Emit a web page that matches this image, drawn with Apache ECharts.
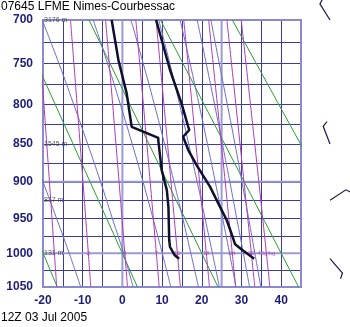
<!DOCTYPE html>
<html><head><meta charset="utf-8">
<script src="https://cdn.jsdelivr.net/npm/echarts@6/dist/echarts.min.js"></script>
<style>html,body{margin:0;padding:0;background:#fff}#chart{width:350px;height:327px}</style>
</head><body><div id="chart"></div>
<script>
// Stüve diagram: the vertical axis is linear in p^kappa
const KAPPA = 0.286;
const sp = p => Math.pow(p, KAPPA);

const pressureLabels = [700, 750, 800, 850, 900, 950, 1000, 1050];
const isobars = [700, 725, 750, 775, 800, 825, 850, 875, 900, 925, 950, 975, 1000, 1025, 1050];
// heavier reference lines
const boldIsobars = [900, 1000];
const boldIsotherms = [0, 25];

// temperature profile (hPa, degC)
const tempPres = [700, 758, 798.6, 828, 832, 840.7, 857.9, 877.7, 906.9, 934.3, 952.9, 971.8, 987.1, 994.7, 1008];
const tempVals = [8.5, 12.0, 14.9, 16.6, 16.85, 15.3, 16.6, 18.7, 22.1, 24.6, 26.3, 27.5, 28.4, 30.05, 33.2];

// dew point profile (hPa, degC)
const dewPres = [700, 746.1, 786.3, 828, 830, 842, 845, 884.3, 911.3, 934.3, 981.3, 991, 1003, 1008];
const dewVals = [-2.7, -1.0, 1.08, 2.34, 2.75, 9.04, 9.04, 9.9, 11.2, 11.6, 11.8, 12.0, 13.2, 14.3];

// dry adiabats: temperature at 1050 hPa and at 700 hPa
const dryAt1050 = [-16.4, 3.8, 24.1, 44.4, 64.7];
const dryAt700 = [-44.6, -26.5, -8.4, 9.6, 27.7];

// saturated adiabats: temperature at each of moistPres
const moistPres = [1050, 1000, 950, 900, 850, 800, 750, 700];
const moistTemps = [
  [-10.5, -13.4, -16.6, -20.0, -23.6, -27.3, -31.2, -35.3],
  [2.7, 0.3, -2.55, -5.5, -8.75, -12.25, -16.0, -20.2],
  [12.2, 10.05, 7.7, 5.2, 2.48, -0.5, -3.75, -7.35],
  [19.17, 17.24, 15.2, 13.0, 10.63, 8.06, 5.24, 2.17],
  [24.44, 22.68, 20.82, 18.84, 16.71, 14.43, 11.94, 9.15],
  [28.62, 27.0, 25.25, 23.4, 21.43, 19.32, 17.05, 14.55],
  [32.04, 30.48, 28.8, 27.07, 25.2, 23.23, 21.12, 18.85],
  [34.88, 33.37, 31.8, 30.12, 28.37, 26.44, 24.4, 22.3]
];

// saturation mixing ratio lines (g/kg), temperatures at mixPres
const mixPres = [1050, 1000, 850, 700];
const mixTemps = [
  [-16.55, -17.13, -19.05, -21.3],
  [-7.96, -8.58, -10.65, -13.07],
  [1.29, 0.61, -1.62, -4.23],
  [9.27, 8.55, 6.17, 3.39],
  [14.61, 13.85, 11.38, 8.48],
  [21.94, 21.14, 18.52, 15.46],
  [28.53, 27.69, 24.94, 21.73],
  [33.36, 32.49, 29.64, 26.32],
  [37.16, 36.28, 33.35, 29.94]
];
const mixLabels = ['', '2', '4', '7', '10', '16', '24', '32', '40g/kg'];

// geopotential heights of standard levels
const heightPres = [700, 850, 925, 1000];
const heightText = ['3176 m', '1545 m', '817 m', '131 m'];

// winds: pressure, direction (deg), speed (kt)
const windPres = [700, 850, 925, 1008];
const windDir = [328, 339, 57, 139];
const windSpd = [10, 10, 10, 10];

const NAVY = '#1e1e7a';
const MAGENTA = '#b03cb0';
const series = [];
const bg = { type: 'line', silent: true, symbol: 'none', clip: true };

boldIsobars.forEach(p => series.push(Object.assign({}, bg, {
  z: 1, lineStyle: { color: '#9a9ad6', width: 2 }, data: [[-20, sp(p)], [45, sp(p)]]
})));
boldIsotherms.forEach(t => series.push(Object.assign({}, bg, {
  z: 1, lineStyle: { color: '#9a9ad6', width: 2 }, data: [[t, sp(700)], [t, sp(1050)]]
})));

dryAt1050.forEach((t, i) => series.push(Object.assign({}, bg, {
  z: 3, lineStyle: { color: '#2ca02c', width: 1 },
  data: [[t, sp(1050)], [dryAt700[i], sp(700)]]
})));

moistTemps.forEach(row => series.push(Object.assign({}, bg, {
  z: 3, smooth: true, lineStyle: { color: '#6d6dc4', width: 1 },
  data: row.map((t, j) => [t, sp(moistPres[j])])
})));

mixTemps.forEach(row => series.push(Object.assign({}, bg, {
  z: 3, smooth: true, lineStyle: { color: MAGENTA, width: 1 },
  data: row.map((t, j) => [t, sp(mixPres[j])])
})));

// mixing ratio values written along the 1000 hPa isobar
series.push({
  type: 'scatter', silent: true, symbolSize: 0, z: 6,
  data: mixTemps.map((row, i) => {
    const last = i === mixTemps.length - 1;
    return {
      value: [row[1], sp(1000)], name: mixLabels[i],
      label: last ? { align: 'left', offset: [-9, 0] } : undefined
    };
  }),
  label: { show: true, position: 'inside', formatter: p => p.name, color: MAGENTA, fontSize: 6, fontFamily: 'Liberation Sans' }
});

series.push({
  type: 'line', silent: true, symbol: 'none', z: 8,
  lineStyle: { color: '#10102c', width: 2.5 },
  data: tempPres.map((p, i) => [tempVals[i], sp(p)])
});
series.push({
  type: 'line', silent: true, symbol: 'none', z: 8,
  lineStyle: { color: '#10102c', width: 2.5 },
  data: dewPres.map((p, i) => [dewVals[i], sp(p)])
});

series.push({
  type: 'scatter', silent: true, symbolSize: 0, z: 7,
  data: heightPres.map((p, i) => ({ value: [-20, sp(p)], name: heightText[i] })),
  label: { show: true, position: 'right', distance: 1, formatter: p => p.name, color: '#333', fontSize: 7, fontFamily: 'Liberation Sans' }
});

// wind barbs drawn beside the plot, one per level
series.push({
  type: 'custom', silent: true, clip: false, z: 9,
  data: windPres.map((p, i) => [45, sp(p), windDir[i], windSpd[i]]),
  renderItem: (params, api) => {
    const base = api.coord([api.value(0), api.value(1)]);
    const x0 = base[0] + 29, y0 = base[1];
    const a = api.value(2) * Math.PI / 180;
    const dx = Math.sin(a), dy = -Math.cos(a);
    const L = 19;
    const x1 = x0 + dx * L, y1 = y0 + dy * L;
    // feather on the clockwise side of the staff
    const fx = -dy, fy = dx;
    const F = api.value(3) >= 10 ? 6 : 4;
    const x2 = x1 + (fx * 0.87 + dx * 0.5) * F, y2 = y1 + (fy * 0.87 + dy * 0.5) * F;
    const st = { stroke: '#1a1a4a', lineWidth: 1.2, fill: null };
    return { type: 'polyline', shape: { points: [[x0, y0], [x1, y1], [x2, y2]] }, style: st };
  }
});

const chart = echarts.init(document.getElementById('chart'), null, { renderer: 'canvas' });
chart.setOption({
  animation: false,
  backgroundColor: '#fff',
  title: [
    { text: '07645 LFME Nimes-Courbessac', left: 1, top: 1, padding: 0, textStyle: { fontSize: 12, fontWeight: 'normal', color: '#000', fontFamily: 'Liberation Sans' } },
    { text: '12Z 03 Jul 2005', left: 1, top: 312, padding: 0, textStyle: { fontSize: 12, fontWeight: 'normal', color: '#000', fontFamily: 'Liberation Sans' } }
  ],
  grid: { left: 43, right: 49, top: 20, bottom: 40, show: true, borderColor: '#8a8ad0', borderWidth: 2, backgroundColor: 'transparent', z: 2 },
  xAxis: {
    type: 'value', min: -20, max: 45, interval: 5,
    axisLine: { show: false }, axisTick: { show: false },
    axisLabel: { formatter: v => (v % 10 === 0 ? String(v) : ''), color: NAVY, fontWeight: 'bold', fontSize: 12, margin: 8, fontFamily: 'Liberation Sans' },
    splitLine: { show: true, lineStyle: { color: '#3b3ba8', width: 1 } }
  },
  yAxis: {
    type: 'value', inverse: true, min: sp(700), max: sp(1050),
    axisLine: { show: false },
    axisTick: { show: false, customValues: isobars.map(sp) },
    axisLabel: { customValues: pressureLabels.map(sp), formatter: v => String(Math.round(Math.pow(v, 1 / KAPPA))), color: NAVY, fontWeight: 'bold', fontSize: 12, margin: 10, fontFamily: 'Liberation Sans' },
    splitLine: { show: true, lineStyle: { color: '#3b3ba8', width: 1 } }
  },
  series
});
</script></body></html>
